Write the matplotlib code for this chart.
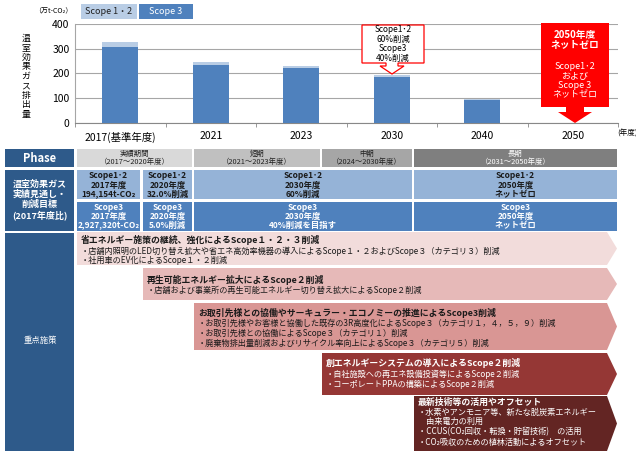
import numpy as np
import matplotlib
matplotlib.use('Agg')
import matplotlib.pyplot as plt
from matplotlib.patches import Rectangle, Polygon

plt.rcParams['font.family'] = ['Noto Sans CJK JP', 'DejaVu Sans']

# chart data (万t-CO2)
years = ['2017(基準年度)', '2021', '2023', '2030', '2040', '2050']
scope3 = [306, 235, 223, 186, 93, 0]
scope12 = [20, 12, 9, 7, 2, 0]
series_names = ['Scope 1・2', 'Scope 3']
yticks = [0, 100, 200, 300, 400]

# table text
phases = ['実績期間\n（2017～2020年度）', '短期\n（2021～2023年度）',
          '中期\n（2024～2030年度）', '長期\n（2031～2050年度）']
row12 = ['Scope1･2\n2017年度\n194,154t-CO₂', 'Scope1･2\n2020年度\n32.0%削減',
         'Scope1･2\n2030年度\n60%削減', 'Scope1･2\n2050年度\nネットゼロ']
row3 = ['Scope3\n2017年度\n2,927,320t-CO₂', 'Scope3\n2020年度\n5.0%削減',
        'Scope3\n2030年度\n40%削減を目指す', 'Scope3\n2050年度\nネットゼロ']

measures = [
    ('省エネルギー施策の継続、強化によるScope１・２・３削減',
     ['・店舗内照明のLED切り替え拡大や省エネ高効率機器の導入によるScope１・２およびScope３（カテゴリ３）削減',
      '・社用車のEV化によるScope１・２削減']),
    ('再生可能エネルギー拡大によるScope２削減',
     ['・店舗および事業所の再生可能エネルギー切り替え拡大によるScope２削減']),
    ('お取引先様との協働やサーキュラー・エコノミーの推進によるScope3削減',
     ['・お取引先様やお客様と協働した既存の3R高度化によるScope３（カテゴリ１，４，５，９）削減',
      '・お取引先様との協働によるScope３（カテゴリ１）削減',
      '・廃棄物排出量削減およびリサイクル率向上によるScope３（カテゴリ５）削減']),
    ('創エネルギーシステムの導入によるScope２削減',
     ['・自社施設への再エネ設備投資等によるScope２削減',
      '・コーポレートPPAの構築によるScope２削減']),
    ('最新技術等の活用やオフセット',
     ['・水素やアンモニア等、新たな脱炭素エネルギー',
      '　由来電力の利用',
      '・CCUS(CO₂回収・転換・貯留技術)　の活用',
      '・CO₂吸収のための植林活動によるオフセット']),
]

W, H = 636, 455
fig = plt.figure(figsize=(W / 100, H / 100), dpi=100)

c_s3 = '#4F81BD'
c_s12 = '#B9CDE5'

# ---- bar chart
ax = fig.add_axes([75 / W, 1 - 123 / H, (618 - 75) / W, (123 - 24) / H])
x = np.arange(len(years))
ax.bar(x, scope3, width=0.4, color=c_s3, zorder=3)
ax.bar(x, scope12, width=0.4, bottom=scope3, color=c_s12, zorder=3)
ax.set_xlim(-0.5, len(years) - 0.5)
ax.set_ylim(0, 400)
ax.set_yticks(yticks)
ax.set_yticklabels([str(v) for v in yticks], fontsize=7.5)
ax.set_xticks(x)
ax.set_xticklabels(years, fontsize=7.5)
ax.set_xticks(np.arange(-0.5, len(years)), minor=True)
ax.tick_params(axis='x', which='major', length=0, pad=6)
ax.tick_params(axis='x', which='minor', length=3, color='#888888')
ax.tick_params(axis='y', length=0, pad=4)
ax.grid(axis='y', color='#A6A6A6', linewidth=0.8, zorder=0)
for s in ['top', 'right']:
    ax.spines[s].set_visible(False)
ax.spines['left'].set_color('#A6A6A6')
ax.spines['bottom'].set_color('#888888')

# ---- overlay in pixel coordinates
ov = fig.add_axes([0, 0, 1, 1])
ov.set_xlim(0, W)
ov.set_ylim(H, 0)
ov.axis('off')
ov.patch.set_visible(False)


def box(x0, y0, x1, y1, color, **kw):
    ov.add_patch(Rectangle((x0, y0), x1 - x0, y1 - y0, facecolor=color,
                           edgecolor='none', **kw))


# legend boxes and units
ov.text(53, 11, '（万t-CO₂）', fontsize=5, ha='center', va='center')
box(81, 4, 137, 19, c_s12)
ov.text(109, 11.5, series_names[0], fontsize=6.5, ha='center', va='center', color='#222222')
box(139, 4, 193, 19, c_s3)
ov.text(166, 11.5, series_names[1], fontsize=6.5, ha='center', va='center', color='white')
# vertical axis title, one glyph per row
for i, ch in enumerate('温室効果ガス排出量'):
    ov.text(26, 38.5 + i * 9.5, ch, fontsize=6.4, ha='center', va='center')
ov.text(627, 134, '(年度)', fontsize=5.5, ha='center', va='center')

# 2030 callout
ov.add_patch(Polygon([(362, 25), (424, 25), (424, 63), (398, 63), (398, 66),
                      (404, 66), (392, 74), (380, 66), (386, 66), (386, 63),
                      (362, 63)], closed=True, facecolor='white',
                     edgecolor='#FF0000', linewidth=0.9))
ov.text(393, 44, 'Scope1･2\n60%削減\nScope3\n40%削減', fontsize=6,
        ha='center', va='center', linespacing=1.05)

# 2050 callout
ov.add_patch(Polygon([(541, 23), (609, 23), (609, 107), (584, 107), (584, 112),
                      (592, 112), (575, 123), (558, 112), (566, 112), (566, 107),
                      (541, 107)], closed=True, facecolor='#FF0000', edgecolor='none'))
ov.text(575, 40, '2050年度\nネットゼロ', fontsize=7, fontweight='bold', color='white',
        ha='center', va='center', linespacing=1.1)
ov.text(575, 81, 'Scope1･2\nおよび\nScope 3\nネットゼロ', fontsize=6.5, color='white',
        ha='center', va='center', linespacing=1.05)

# ---- table
hdr = '#2E5A8A'
box(5, 149, 74, 167, hdr)
ov.text(40, 158, 'Phase', fontsize=8, fontweight='bold', color='white',
        ha='center', va='center')
box(5, 170, 74, 231, hdr)
ov.text(40, 200, '温室効果ガス\n実績見通し・\n削減目標\n(2017年度比)', fontsize=6.5,
        fontweight='bold', color='white', ha='center', va='center', linespacing=1.1)
box(5, 233, 74, 451, hdr)
ov.text(40, 340, '重点施策', fontsize=6, color='white', ha='center', va='center')

phase_cols = [(77, 192), (194, 320), (322, 412), (414, 617)]
phase_colors = ['#D9D9D9', '#C0C0C0', '#A6A6A6', '#7F7F7F']
phase_text = ['#222222', '#222222', '#222222', 'white']
for (x0, x1), lab, fc, tc in zip(phase_cols, phases, phase_colors, phase_text):
    box(x0, 149, x1, 167, fc)
    ov.text((x0 + x1) / 2, 158, lab, fontsize=5.3, color=tc, ha='center',
            va='center', linespacing=1.1)

cell_cols = [(77, 140), (143, 192), (194, 412), (414, 617)]
for (x0, x1), t12, t3 in zip(cell_cols, row12, row3):
    box(x0, 170, x1, 199, '#95B3D7')
    ov.text((x0 + x1) / 2, 185, t12, fontsize=6, fontweight='bold', color='#1A1A1A',
            ha='center', va='center', linespacing=1.05)
    box(x0, 202, x1, 231, c_s3)
    ov.text((x0 + x1) / 2, 216.5, t3, fontsize=6, fontweight='bold', color='white',
            ha='center', va='center', linespacing=1.05)

# ---- chevrons of measures
chev_rows = [(77, 232, 265), (143, 268, 300), (194, 303, 350), (322, 353, 395), (414, 396, 451)]
chev_colors = ['#F2DCDB', '#E6B9B8', '#D99694', '#953735', '#632523']
chev_text = ['#1A1A1A', '#1A1A1A', '#1A1A1A', 'white', 'white']
line_y = [[240, 251, 260], [280, 290], [313, 323, 333, 343], [363, 374, 384],
          [402, 412, 421, 432, 442]]
for (x0, y0, y1), fc, tc, ys, (title, bullets) in zip(chev_rows, chev_colors, chev_text,
                                                      line_y, measures):
    ov.add_patch(Polygon([(x0, y0), (607, y0), (617, (y0 + y1) / 2), (607, y1), (x0, y1)],
                         closed=True, facecolor=fc, edgecolor='none'))
    ov.text(x0 + 4, ys[0], title, fontsize=6.4, fontweight='bold', color=tc,
            ha='left', va='center')
    for yy, b in zip(ys[1:], bullets):
        ov.text(x0 + 4, yy, b, fontsize=5.9, color=tc, ha='left', va='center')

fig.savefig('out.png', dpi=100)
